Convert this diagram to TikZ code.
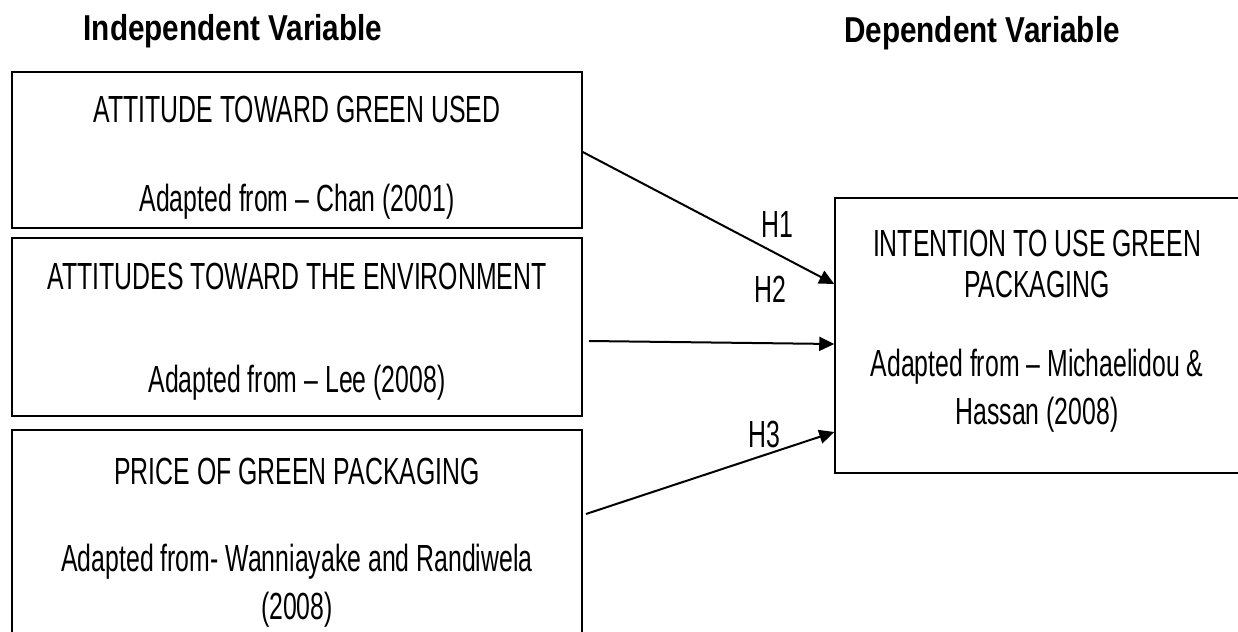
\documentclass[tikz,border=0pt]{standalone}
\usepackage{fontspec}
\setmainfont{Liberation Sans}[FakeStretch=0.657,BoldFeatures={FakeStretch=0.825}]
\usetikzlibrary{arrows.meta}
\begin{document}
\begin{tikzpicture}[x=0.5pt,y=-0.5pt,font=\fontsize{18.9}{22}\selectfont,
	varbox/.style={draw,line width=0.75pt,inner sep=0pt},
	txt/.style={anchor=base,inner sep=0pt},
	>={Triangle[length=7.5pt,width=7pt]}]
	\useasboundingbox (0,0) rectangle (1238,632);
	\clip (0,0) rectangle (1238,632);
	\node[txt,font=\fontsize{18}{22}\selectfont\bfseries] (tind) at (233,40) {Independent Variable};
	\node[txt,font=\fontsize{18}{22}\selectfont\bfseries] (tdep) at (982,42) {Dependent Variable};
	% boxes
	\node[varbox,minimum width=285pt,minimum height=78pt] (b1) at (297,150) {};
	\node[varbox,minimum width=285pt,minimum height=89pt] (b2) at (297,327) {};
	\node[varbox,minimum width=285pt,minimum height=110pt] (b3) at (297,540) {};
	\node[varbox,minimum width=202.5pt,minimum height=137.5pt] (b4) at (1037.5,335.5) {};
	\node[txt] (b1a) at (297,122) {ATTITUDE TOWARD GREEN USED};
	\node[txt] (b1b) at (297,211) {Adapted from -- Chan (2001)};
	\node[txt] (b2a) at (297,289) {ATTITUDES TOWARD THE ENVIRONMENT};
	\node[txt] (b2b) at (297,392) {Adapted from -- Lee (2008)};
	\node[txt] (b3a) at (297,484) {PRICE OF GREEN PACKAGING};
	\node[txt] (b3b) at (297,571) {Adapted from- Wanniayake and Randiwela};
	\node[txt] (b3c) at (297,619) {(2008)};
	\node[txt] (b4a) at (1037,256) {INTENTION TO USE GREEN};
	\node[txt] (b4b) at (1037,297) {PACKAGING};
	\node[txt] (b4c) at (1037,376) {Adapted from -- Michaelidou \&};
	\node[txt] (b4d) at (1037,424) {Hassan (2008)};
	% hypotheses
	\coordinate (s2) at (589,341);
	\coordinate (s3) at (586,514);
	\draw[->,line width=1pt] (b1.east |- 0,152) -- (b4.west |- 0,284);
	\draw[->,line width=1pt] (s2) -- (b4.west |- 0,344);
	\draw[->,line width=1pt] (s3) -- (b4.west |- 0,432);
	\node[txt] (h1) at (777,237) {H1};
	\node[txt] (h2) at (770,302) {H2};
	\node[txt] (h3) at (764,447) {H3};
\end{tikzpicture}
\end{document}
